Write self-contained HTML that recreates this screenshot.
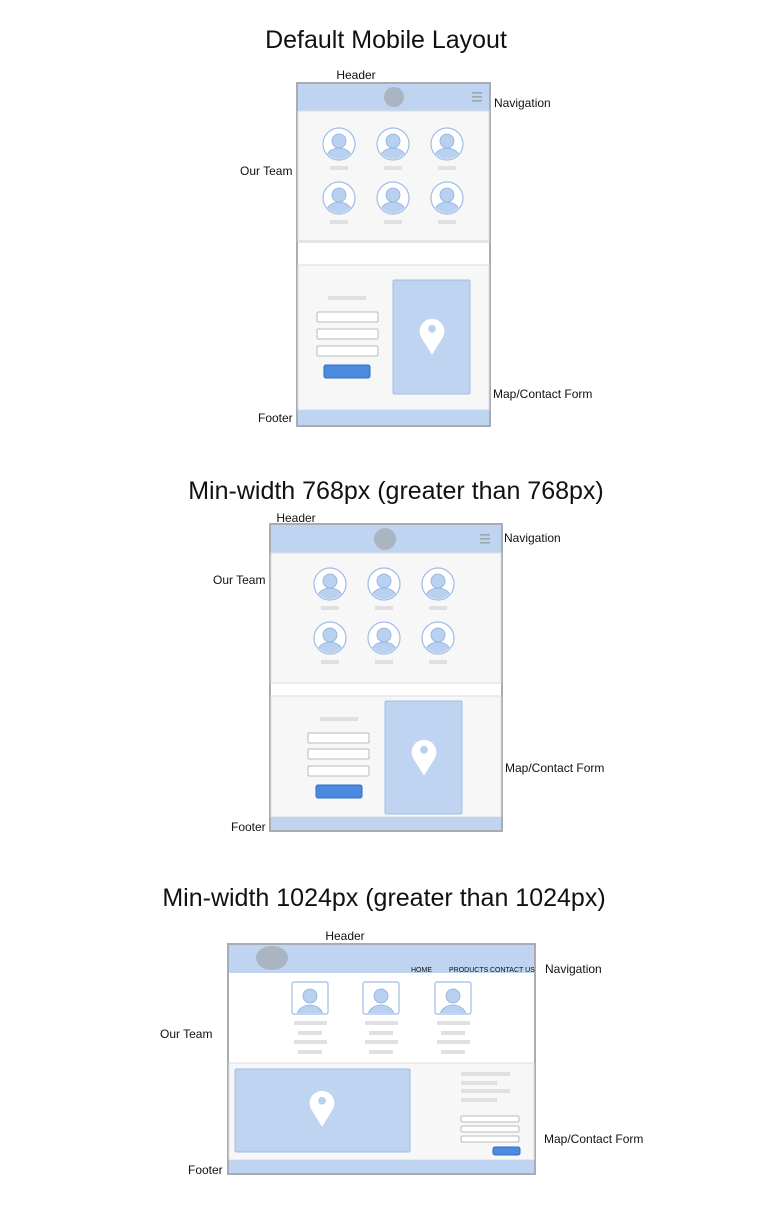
<!DOCTYPE html>
<html><head><meta charset="utf-8"><style>
html,body{margin:0;padding:0;background:#fff;width:768px;height:1205px;overflow:hidden}
svg{display:block}
text{font-family:"Liberation Sans",sans-serif;fill:#111}
</style></head><body>
<svg width="768" height="1205" viewBox="0 0 768 1205" xmlns="http://www.w3.org/2000/svg">
<defs>
<g id="av">
 <circle cx="0" cy="0" r="16" fill="#fff" stroke="#9fbde6" stroke-width="1.2"/>
 <clipPath id="cc"><circle cx="0" cy="0" r="15"/></clipPath>
 <g clip-path="url(#cc)">
  <circle cx="0" cy="-3" r="7" fill="#b9d1f0" stroke="#8fb0dc" stroke-width="0.8"/>
  <ellipse cx="0" cy="15" rx="13" ry="11" fill="#b9d1f0" stroke="#8fb0dc" stroke-width="0.8"/>
 </g>
</g>
<g id="sq">
 <rect x="0" y="0" width="36" height="32" rx="2" fill="#fff" stroke="#9fbde6" stroke-width="1.2"/>
 <clipPath id="cs"><rect x="1" y="1" width="34" height="30"/></clipPath>
 <g clip-path="url(#cs)">
  <circle cx="18" cy="14" r="7" fill="#b9d1f0" stroke="#8fb0dc" stroke-width="0.8"/>
  <ellipse cx="18" cy="34" rx="13" ry="11" fill="#b9d1f0" stroke="#8fb0dc" stroke-width="0.8"/>
 </g>
</g>
<g id="pin">
 <g transform="scale(1.3)">
 <path d="M0,16 L-8,3 A9.5,9.5 0 1 1 8,3 Z" fill="#fff"/>
 <circle cx="0" cy="-4" r="3" fill="#b9d1f0"/>
 </g>
</g>
<g id="ham"><rect x="-5" y="-5" width="10" height="1.6" fill="#9aa"/><rect x="-5" y="-1" width="10" height="1.6" fill="#9aa"/><rect x="-5" y="3" width="10" height="1.6" fill="#9aa"/></g>
</defs>

<!-- Layout 1 -->
<text x="386" y="48" font-size="25" text-anchor="middle">Default Mobile Layout</text>
<rect x="297" y="83" width="193" height="343" fill="#fff" stroke="#a9adb3" stroke-width="2"/>
<rect x="298" y="84" width="191" height="27" fill="#bfd4f0"/>
<circle cx="394" cy="97" r="10" fill="#aab4c2"/>
<use href="#ham" x="477" y="97"/>
<rect x="298" y="111" width="191" height="131" fill="#f7f7f7" stroke="#ddd"/>
<rect x="298" y="240" width="191" height="3" fill="#e4e4e4"/>
<rect x="298" y="265" width="191" height="145" fill="#f7f7f7" stroke="#ddd"/>
<rect x="298" y="410" width="191" height="15" fill="#bfd4f0"/>
<use href="#av" x="339" y="144"/><use href="#av" x="393" y="144"/><use href="#av" x="447" y="144"/>
<use href="#av" x="339" y="198"/><use href="#av" x="393" y="198"/><use href="#av" x="447" y="198"/>
<g fill="#e0e0e0"><rect x="330" y="166" width="18" height="4"/><rect x="384" y="166" width="18" height="4"/><rect x="438" y="166" width="18" height="4"/>
<rect x="330" y="220" width="18" height="4"/><rect x="384" y="220" width="18" height="4"/><rect x="438" y="220" width="18" height="4"/>
<rect x="328" y="296" width="38" height="4"/></g>
<g fill="#fff" stroke="#bbb"><rect x="317" y="312" width="61" height="10" rx="1.5"/><rect x="317" y="329" width="61" height="10" rx="1.5"/><rect x="317" y="346" width="61" height="10" rx="1.5"/></g>
<rect x="324" y="365" width="46" height="13" rx="2" fill="#4a8be0" stroke="#2f6fc4"/>
<rect x="393" y="280" width="77" height="114" rx="1.5" fill="#bfd4f0" stroke="#9fbde6"/>
<use href="#pin" x="432" y="334"/>
<text x="356" y="79" font-size="12" text-anchor="middle">Header</text>
<text x="494" y="107" font-size="12">Navigation</text>
<text x="240" y="175" font-size="12">Our Team</text>
<text x="493" y="398" font-size="12">Map/Contact Form</text>
<text x="258" y="422" font-size="12">Footer</text>

<!-- Layout 2 -->
<text x="396" y="499" font-size="25" text-anchor="middle">Min-width 768px (greater than 768px)</text>
<rect x="270" y="524" width="232" height="307" fill="#fff" stroke="#a9adb3" stroke-width="2"/>
<rect x="271" y="525" width="230" height="28" fill="#bfd4f0"/>
<circle cx="385" cy="539" r="11" fill="#aab4c2"/>
<use href="#ham" x="485" y="539"/>
<rect x="271" y="553" width="230" height="130" fill="#f7f7f7" stroke="#ddd"/>
<rect x="271" y="696" width="230" height="121" fill="#f7f7f7" stroke="#ddd"/>
<rect x="271" y="817" width="230" height="13" fill="#bfd4f0"/>
<use href="#av" x="330" y="584"/><use href="#av" x="384" y="584"/><use href="#av" x="438" y="584"/>
<use href="#av" x="330" y="638"/><use href="#av" x="384" y="638"/><use href="#av" x="438" y="638"/>
<g fill="#e0e0e0"><rect x="321" y="606" width="18" height="4"/><rect x="375" y="606" width="18" height="4"/><rect x="429" y="606" width="18" height="4"/>
<rect x="321" y="660" width="18" height="4"/><rect x="375" y="660" width="18" height="4"/><rect x="429" y="660" width="18" height="4"/>
<rect x="320" y="717" width="38" height="4"/></g>
<g fill="#fff" stroke="#bbb"><rect x="308" y="733" width="61" height="10" rx="1.5"/><rect x="308" y="749" width="61" height="10" rx="1.5"/><rect x="308" y="766" width="61" height="10" rx="1.5"/></g>
<rect x="316" y="785" width="46" height="13" rx="2" fill="#4a8be0" stroke="#2f6fc4"/>
<rect x="385" y="701" width="77" height="113" rx="1.5" fill="#bfd4f0" stroke="#9fbde6"/>
<use href="#pin" x="424" y="755"/>
<text x="296" y="522" font-size="12" text-anchor="middle">Header</text>
<text x="504" y="542" font-size="12">Navigation</text>
<text x="213" y="584" font-size="12">Our Team</text>
<text x="505" y="772" font-size="12">Map/Contact Form</text>
<text x="231" y="831" font-size="12">Footer</text>

<!-- Layout 3 -->
<text x="384" y="906" font-size="25" text-anchor="middle">Min-width 1024px (greater than 1024px)</text>
<rect x="228" y="944" width="307" height="230" fill="#fff" stroke="#a9adb3" stroke-width="2"/>
<rect x="229" y="945" width="305" height="28" fill="#bfd4f0"/>
<ellipse cx="272" cy="958" rx="16" ry="12" fill="#aab4c2"/>
<text x="411" y="972" font-size="7">HOME</text>
<text x="449" y="972" font-size="7">PRODUCTS</text>
<text x="490" y="972" font-size="7">CONTACT US</text>
<rect x="229" y="1063" width="305" height="97" fill="#f7f7f7" stroke="#ddd"/>
<rect x="229" y="1160" width="305" height="13" fill="#bfd4f0"/>
<use href="#sq" x="292" y="982"/><use href="#sq" x="363" y="982"/><use href="#sq" x="435" y="982"/>
<g fill="#e0e0e0">
<rect x="294" y="1021" width="33" height="4"/><rect x="298" y="1031" width="24" height="4"/><rect x="294" y="1040" width="33" height="4"/><rect x="298" y="1050" width="24" height="4"/>
<rect x="365" y="1021" width="33" height="4"/><rect x="369" y="1031" width="24" height="4"/><rect x="365" y="1040" width="33" height="4"/><rect x="369" y="1050" width="24" height="4"/>
<rect x="437" y="1021" width="33" height="4"/><rect x="441" y="1031" width="24" height="4"/><rect x="437" y="1040" width="33" height="4"/><rect x="441" y="1050" width="24" height="4"/>
<rect x="461" y="1072" width="49" height="4"/><rect x="461" y="1081" width="36" height="4"/><rect x="461" y="1089" width="49" height="4"/><rect x="461" y="1098" width="36" height="4"/>
</g>
<g fill="#fff" stroke="#bbb"><rect x="461" y="1116" width="58" height="6" rx="1.5"/><rect x="461" y="1126" width="58" height="6" rx="1.5"/><rect x="461" y="1136" width="58" height="6" rx="1.5"/></g>
<rect x="493" y="1147" width="27" height="8" rx="2" fill="#4a8be0" stroke="#2f6fc4"/>
<rect x="235" y="1069" width="175" height="83" rx="1.5" fill="#bfd4f0" stroke="#9fbde6"/>
<use href="#pin" x="322" y="1106"/>
<text x="345" y="940" font-size="12" text-anchor="middle">Header</text>
<text x="545" y="973" font-size="12">Navigation</text>
<text x="160" y="1038" font-size="12">Our Team</text>
<text x="544" y="1143" font-size="12">Map/Contact Form</text>
<text x="188" y="1174" font-size="12">Footer</text>
</svg>
</body></html>
